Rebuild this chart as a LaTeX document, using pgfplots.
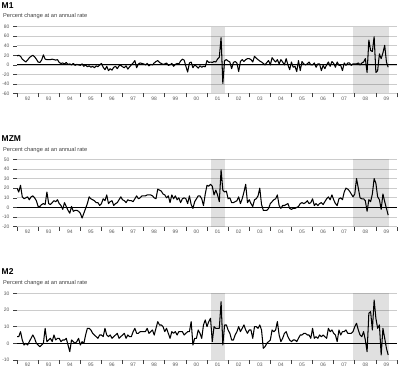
\documentclass[border=0pt]{standalone}
\usepackage{fontspec}
\setmainfont{Liberation Sans}
\usepackage{pgfplots}
\pgfplotsset{compat=1.18}
\definecolor{gridc}{gray}{0.8}
\definecolor{labc}{gray}{0.35}
\pgfplotsset{
  monpanel/.style={
    scale only axis, width=380bp, anchor=south west,
    xmin=1992, xmax=2010,
    axis line style={draw=none},
    xtick pos=bottom, ytick pos=left,
    tick align=outside, major tick length=4bp,
    tick style={black!75, line width=0.55pt},
    xtick={1992,...,2010}, xticklabels={},
    extra x ticks={1992.5,1993.5,1994.5,1995.5,1996.5,1997.5,1998.5,1999.5,2000.5,2001.5,2002.5,2003.5,2004.5,2005.5,2006.5,2007.5,2008.5,2009.5},
    extra x tick labels={92,93,94,95,96,97,98,99,00,01,02,03,04,05,06,07,08,09},
    extra x tick style={major tick length=0pt},
    ymajorgrids, grid style={gridc, line width=0.7pt},
    /pgf/number format/assume math mode=true,
    tick label style={font=\fontsize{5}{6}\selectfont, text=labc},
  },
  dataline/.style={black, line width=1.05pt, line join=round},
  zeroline/.style={black, line width=0.75pt},
  shade/.style={fill=black, fill opacity=0.12, draw=none},
}
\begin{document}
\begin{tikzpicture}
\path[use as bounding box] (0,0) rectangle (400bp,370bp);
% ---------------- M1 ----------------
\node[anchor=west, inner sep=0, font=\fontsize{8.5}{9}\selectfont\bfseries] at (1.5bp,364.5bp) {M1};
\node[anchor=west, inner sep=0, font=\fontsize{5.7}{6}\selectfont, text=black!75] at (3bp,354bp) {Percent change at an annual rate};
\begin{axis}[monpanel, at={(17bp,276.5bp)}, height=66.8bp, ymin=-60, ymax=80, ytick={-60,-40,-20,0,20,40,60,80}]
\addplot[shade] coordinates {(2001.17,-60)(2001.17,80)(2001.83,80)(2001.83,-60)} -- cycle;
\addplot[shade] coordinates {(2007.92,-60)(2007.92,80)(2009.6,80)(2009.6,-60)} -- cycle;
\addplot[zeroline] coordinates {(1992,0)(2010,0)};
\addplot[dataline] coordinates {
(1992.000,19)(1992.083,20)(1992.167,18)(1992.250,12)(1992.333,9)(1992.417,6)(1992.500,10)(1992.583,15)(1992.667,18)(1992.750,20)(1992.833,17)(1992.917,12)
(1993.000,6)(1993.083,5)(1993.167,10)(1993.250,21)(1993.333,12)(1993.417,11)(1993.500,11)(1993.583,11)(1993.667,12)(1993.750,11)(1993.833,10)(1993.917,11)
(1994.000,5)(1994.083,3)(1994.167,4)(1994.250,2)(1994.333,5)(1994.417,1)(1994.500,2)(1994.583,0)(1994.667,3)(1994.750,-1)(1994.833,1)(1994.917,0)
(1995.000,-1)(1995.083,2)(1995.167,-3)(1995.250,0)(1995.333,-4)(1995.417,-2)(1995.500,-5)(1995.583,-3)(1995.667,-6)(1995.750,-2)(1995.833,-4)(1995.917,0)
(1996.000,3)(1996.083,-5)(1996.167,-10)(1996.250,-3)(1996.333,-12)(1996.417,-8)(1996.500,-11)(1996.583,-5)(1996.667,-3)(1996.750,-8)(1996.833,-2)(1996.917,-1)
(1997.000,-4)(1997.083,-6)(1997.167,-2)(1997.250,-9)(1997.333,-4)(1997.417,0)(1997.500,4)(1997.583,9)(1997.667,-6)(1997.750,2)(1997.833,4)(1997.917,3)
(1998.000,2)(1998.083,0)(1998.167,3)(1998.250,-2)(1998.333,1)(1998.417,0)(1998.500,4)(1998.583,7)(1998.667,9)(1998.750,5)(1998.833,3)(1998.917,1)
(1999.000,2)(1999.083,4)(1999.167,-1)(1999.250,0)(1999.333,3)(1999.417,-3)(1999.500,1)(1999.583,3)(1999.667,2)(1999.750,8)(1999.833,12)(1999.917,10)
(2000.000,-3)(2000.083,-15)(2000.167,4)(2000.250,6)(2000.333,-6)(2000.417,0)(2000.500,-3)(2000.583,-7)(2000.667,-2)(2000.750,-5)(2000.833,-3)(2000.917,-4)
(2001.000,9)(2001.083,5)(2001.167,6)(2001.250,5)(2001.333,7)(2001.417,6)(2001.500,12)(2001.583,16)(2001.667,57)(2001.750,-39)(2001.833,9)(2001.917,11)
(2002.000,8)(2002.083,6)(2002.167,-8)(2002.250,5)(2002.333,7)(2002.417,4)(2002.500,-14)(2002.583,7)(2002.667,11)(2002.750,7)(2002.833,11)(2002.917,13)
(2003.000,13)(2003.083,11)(2003.167,6)(2003.250,18)(2003.333,14)(2003.417,11)(2003.500,8)(2003.583,6)(2003.667,3)(2003.750,0)(2003.833,5)(2003.917,9)
(2004.000,0)(2004.083,15)(2004.167,10)(2004.250,6)(2004.333,11)(2004.417,2)(2004.500,11)(2004.583,6)(2004.667,0)(2004.750,13)(2004.833,0)(2004.917,-10)
(2005.000,6)(2005.083,-5)(2005.167,-3)(2005.250,-14)(2005.333,9)(2005.417,-12)(2005.500,7)(2005.583,2)(2005.667,0)(2005.750,2)(2005.833,6)(2005.917,0)
(2006.000,0)(2006.083,4)(2006.167,-5)(2006.250,2)(2006.333,2)(2006.417,-12)(2006.500,-1)(2006.583,-8)(2006.667,0)(2006.750,6)(2006.833,-3)(2006.917,7)
(2007.000,3)(2007.083,-5)(2007.167,6)(2007.250,-1)(2007.333,-1)(2007.417,-12)(2007.500,4)(2007.583,-1)(2007.667,4)(2007.750,4)(2007.833,-1)(2007.917,2)
(2008.000,2)(2008.083,2)(2008.167,4)(2008.250,0)(2008.333,4)(2008.417,6)(2008.500,13)(2008.583,-16)(2008.667,52)(2008.750,30)(2008.833,28)(2008.917,59)
(2009.000,-16)(2009.083,-12)(2009.167,23)(2009.250,13)(2009.333,25)(2009.417,41)(2009.500,6)(2009.583,-5)
};
\end{axis}
% ---------------- MZM ----------------
\node[anchor=west, inner sep=0, font=\fontsize{8.5}{9}\selectfont\bfseries] at (1.5bp,231bp) {MZM};
\node[anchor=west, inner sep=0, font=\fontsize{5.7}{6}\selectfont, text=black!75] at (3bp,220bp) {Percent change at an annual rate};
\begin{axis}[monpanel, at={(17bp,143.3bp)}, height=67.4bp, ymin=-20, ymax=50, ytick={-20,-10,0,10,20,30,40,50}]
\addplot[shade] coordinates {(2001.17,-20)(2001.17,50)(2001.83,50)(2001.83,-20)} -- cycle;
\addplot[shade] coordinates {(2007.92,-20)(2007.92,50)(2009.6,50)(2009.6,-20)} -- cycle;
\addplot[zeroline] coordinates {(1992,0)(2010,0)};
\addplot[dataline] coordinates {
(1992.000,20)(1992.083,16)(1992.167,23)(1992.250,11)(1992.333,9)(1992.417,10)(1992.500,11)(1992.583,8)(1992.667,11)(1992.750,12)(1992.833,10)(1992.917,7)
(1993.000,1)(1993.083,1)(1993.167,3)(1993.250,4)(1993.333,3)(1993.417,16)(1993.500,4)(1993.583,3)(1993.667,5)(1993.750,7)(1993.833,6)(1993.917,8)
(1994.000,4)(1994.083,2)(1994.167,-2)(1994.250,5)(1994.333,1)(1994.417,-3)(1994.500,-6)(1994.583,1)(1994.667,-4)(1994.750,-3)(1994.833,-3)(1994.917,-4)
(1995.000,-6)(1995.083,-11)(1995.167,-6)(1995.250,-1)(1995.333,4)(1995.417,11)(1995.500,9)(1995.583,8)(1995.667,7)(1995.750,5)(1995.833,5)(1995.917,2)
(1996.000,4)(1996.083,9)(1996.167,7)(1996.250,13)(1996.333,4)(1996.417,6)(1996.500,7)(1996.583,2)(1996.667,4)(1996.750,5)(1996.833,8)(1996.917,11)
(1997.000,8)(1997.083,7)(1997.167,5)(1997.250,8)(1997.333,7)(1997.417,7)(1997.500,6)(1997.583,9)(1997.667,12)(1997.750,9)(1997.833,10)(1997.917,12)
(1998.000,12)(1998.083,12)(1998.167,13)(1998.250,13)(1998.333,13)(1998.417,12)(1998.500,10)(1998.583,9)(1998.667,19)(1998.750,18)(1998.833,17)(1998.917,14)
(1999.000,13)(1999.083,10)(1999.167,12)(1999.250,5)(1999.333,13)(1999.417,9)(1999.500,12)(1999.583,8)(1999.667,10)(1999.750,5)(1999.833,9)(1999.917,10)
(2000.000,9)(2000.083,4)(2000.167,12)(2000.250,3)(2000.333,-1)(2000.417,6)(2000.500,9)(2000.583,12)(2000.667,12)(2000.750,9)(2000.833,2)(2000.917,14)
(2001.000,23)(2001.083,22)(2001.167,24)(2001.250,22)(2001.333,13)(2001.417,18)(2001.500,13)(2001.583,6)(2001.667,39)(2001.750,18)(2001.833,16)(2001.917,17)
(2002.000,9)(2002.083,10)(2002.167,5)(2002.250,5)(2002.333,6)(2002.417,7)(2002.500,11)(2002.583,4)(2002.667,9)(2002.750,16)(2002.833,24)(2002.917,5)
(2003.000,8)(2003.083,4)(2003.167,1)(2003.250,8)(2003.333,9)(2003.417,12)(2003.500,20)(2003.583,3)(2003.667,-3)(2003.750,-3)(2003.833,-3)(2003.917,-1)
(2004.000,4)(2004.083,6)(2004.167,8)(2004.250,9)(2004.333,13)(2004.417,2)(2004.500,-1)(2004.583,2)(2004.667,2)(2004.750,3)(2004.833,4)(2004.917,-1)
(2005.000,-2)(2005.083,-1)(2005.167,-1)(2005.250,0)(2005.333,1)(2005.417,4)(2005.500,5)(2005.583,4)(2005.667,5)(2005.750,7)(2005.833,4)(2005.917,5)
(2006.000,9)(2006.083,2)(2006.167,4)(2006.250,2)(2006.333,4)(2006.417,5)(2006.500,3)(2006.583,6)(2006.667,9)(2006.750,11)(2006.833,8)(2006.917,13)
(2007.000,8)(2007.083,4)(2007.167,2)(2007.250,9)(2007.333,10)(2007.417,8)(2007.500,16)(2007.583,20)(2007.667,19)(2007.750,17)(2007.833,14)(2007.917,11)
(2008.000,14)(2008.083,30)(2008.167,20)(2008.250,10)(2008.333,9)(2008.417,9)(2008.500,7)(2008.583,-4)(2008.667,8)(2008.750,6)(2008.833,14)(2008.917,30)
(2009.000,25)(2009.083,11)(2009.167,8)(2009.250,-2)(2009.333,14)(2009.417,6)(2009.500,-1)(2009.583,-8)
};
\end{axis}
% ---------------- M2 ----------------
\node[anchor=west, inner sep=0, font=\fontsize{8.5}{9}\selectfont\bfseries] at (1.5bp,98.3bp) {M2};
\node[anchor=west, inner sep=0, font=\fontsize{5.7}{6}\selectfont, text=black!75] at (3bp,86.7bp) {Percent change at an annual rate};
\begin{axis}[monpanel, at={(17bp,10bp)}, height=66.7bp, ymin=-10, ymax=30, ytick={-10,0,10,20,30}]
\addplot[shade] coordinates {(2001.17,-10)(2001.17,30)(2001.83,30)(2001.83,-10)} -- cycle;
\addplot[shade] coordinates {(2007.92,-10)(2007.92,30)(2009.6,30)(2009.6,-10)} -- cycle;
\addplot[zeroline] coordinates {(1992,0)(2010,0)};
\addplot[dataline] coordinates {
(1992.000,4)(1992.083,4)(1992.167,7)(1992.250,2)(1992.333,-1)(1992.417,0)(1992.500,-1)(1992.583,1)(1992.667,3)(1992.750,5)(1992.833,3)(1992.917,0)
(1993.000,-1)(1993.083,-2)(1993.167,-1)(1993.250,0)(1993.333,9)(1993.417,1)(1993.500,2)(1993.583,3)(1993.667,1)(1993.750,5)(1993.833,2)(1993.917,3)
(1994.000,3)(1994.083,1)(1994.167,2)(1994.250,2)(1994.333,3)(1994.417,-1)(1994.500,-5)(1994.583,2)(1994.667,1)(1994.750,0)(1994.833,1)(1994.917,3)
(1995.000,-1)(1995.083,1)(1995.167,0)(1995.250,5)(1995.333,9)(1995.417,9)(1995.500,8)(1995.583,6)(1995.667,5)(1995.750,4)(1995.833,3)(1995.917,5)
(1996.000,5)(1996.083,4)(1996.167,9)(1996.250,5)(1996.333,4)(1996.417,5)(1996.500,3)(1996.583,4)(1996.667,5)(1996.750,6)(1996.833,3)(1996.917,4)
(1997.000,5)(1997.083,6)(1997.167,3)(1997.250,5)(1997.333,4)(1997.417,4)(1997.500,7)(1997.583,9)(1997.667,6)(1997.750,6)(1997.833,7)(1997.917,7)
(1998.000,7)(1998.083,7)(1998.167,9)(1998.250,6)(1998.333,7)(1998.417,8)(1998.500,5)(1998.583,9)(1998.667,13)(1998.750,11)(1998.833,11)(1998.917,10)
(1999.000,7)(1999.083,9)(1999.167,6)(1999.250,3)(1999.333,7)(1999.417,6)(1999.500,7)(1999.583,5)(1999.667,7)(1999.750,7)(1999.833,7)(1999.917,5)
(2000.000,6)(2000.083,7)(2000.167,7)(2000.250,13)(2000.333,-1)(2000.417,3)(2000.500,3)(2000.583,8)(2000.667,6)(2000.750,3)(2000.833,11)(2000.917,14)
(2001.000,10)(2001.083,13)(2001.167,15)(2001.250,1)(2001.333,10)(2001.417,9)(2001.500,9)(2001.583,9)(2001.667,25)(2001.750,-1)(2001.833,11)(2001.917,11)
(2002.000,8)(2002.083,6)(2002.167,2)(2002.250,2)(2002.333,5)(2002.417,7)(2002.500,10)(2002.583,7)(2002.667,9)(2002.750,11)(2002.833,8)(2002.917,6)
(2003.000,8)(2003.083,8)(2003.167,3)(2003.250,10)(2003.333,10)(2003.417,9)(2003.500,11)(2003.583,8)(2003.667,-3)(2003.750,-2)(2003.833,0)(2003.917,1)
(2004.000,2)(2004.083,8)(2004.167,7)(2004.250,8)(2004.333,13)(2004.417,5)(2004.500,1)(2004.583,3)(2004.667,6)(2004.750,7)(2004.833,4)(2004.917,2)
(2005.000,1)(2005.083,2)(2005.167,2)(2005.250,1)(2005.333,3)(2005.417,5)(2005.500,5)(2005.583,6)(2005.667,6)(2005.750,5)(2005.833,5)(2005.917,3)
(2006.000,9)(2006.083,3)(2006.167,4)(2006.250,3)(2006.333,5)(2006.417,4)(2006.500,5)(2006.583,4)(2006.667,3)(2006.750,9)(2006.833,7)(2006.917,8)
(2007.000,6)(2007.083,5)(2007.167,1)(2007.250,8)(2007.333,5)(2007.417,7)(2007.500,7)(2007.583,8)(2007.667,6)(2007.750,6)(2007.833,6)(2007.917,7)
(2008.000,10)(2008.083,12)(2008.167,8)(2008.250,5)(2008.333,4)(2008.417,7)(2008.500,2)(2008.583,-5)(2008.667,18)(2008.750,19)(2008.833,8)(2008.917,26)
(2009.000,15)(2009.083,9)(2009.167,11)(2009.250,-7)(2009.333,9)(2009.417,3)(2009.500,-3)(2009.583,-7)
};
\end{axis}
\end{tikzpicture}
\end{document}
